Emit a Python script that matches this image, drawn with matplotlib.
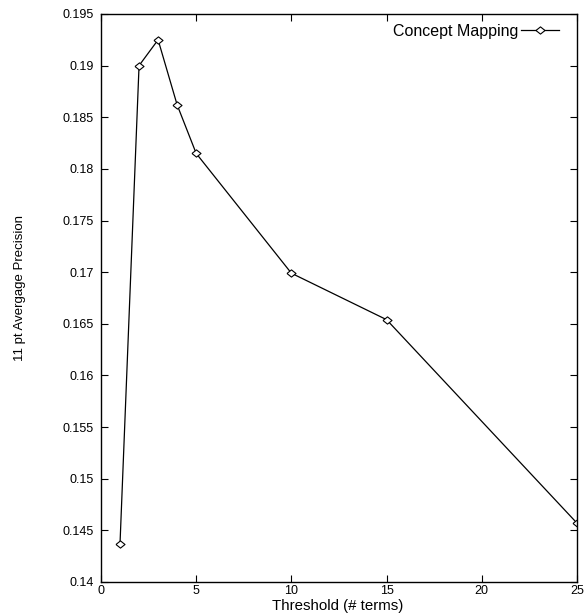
import matplotlib
matplotlib.use("Agg")
from matplotlib import pyplot as plt

# values
thresholds = [1, 2, 3, 4, 5, 10, 15, 25]
precision = [0.1437, 0.1900, 0.1925, 0.1862, 0.1815, 0.1699, 0.1654, 0.1457]
x_ticks = [0, 5, 10, 15, 20, 25]
y_ticks = [0.14, 0.145, 0.15, 0.155, 0.16, 0.165, 0.17, 0.175, 0.18, 0.185, 0.19, 0.195]
y_tick_labels = ['0.14', '0.145', '0.15', '0.155', '0.16', '0.165', '0.17',
                 '0.175', '0.18', '0.185', '0.19', '0.195']

plt.rcParams['font.family'] = ['Liberation Sans', 'DejaVu Sans']

# gnuplot style diamond, a bit wider than tall
diamond = [(-1, 0), (0, 0.8), (1, 0), (0, -0.8), (-1, 0)]

fig = plt.figure(figsize=(5.85, 6.13), dpi=100)
ax = fig.add_axes([0.1726, 0.0506, 0.8137, 0.9266])

ax.plot(thresholds, precision, color='black', linewidth=0.9,
        marker=diamond, markersize=6.5, markerfacecolor='white',
        markeredgecolor='black', markeredgewidth=0.8,
        label='Concept Mapping')

ax.set_xlim(0, 25)
ax.set_ylim(0.14, 0.195)
ax.set_xticks(x_ticks)
ax.set_yticks(y_ticks)
ax.set_yticklabels(y_tick_labels)

ax.tick_params(direction='in', length=5, width=0.8, top=True, right=True,
               labelsize=9)
ax.tick_params(axis='y', pad=5)
ax.tick_params(axis='x', pad=2)
for s in ax.spines.values():
    s.set_linewidth(1.0)

fig.text(0.578, 0.0055, 'Threshold (# terms)', fontsize=10.8,
         ha='center', va='baseline')
fig.text(20 / 585, 0.530, '11 pt Avergage Precision', fontsize=9.5,
         rotation=90, ha='center', va='center')

ax.legend(loc='upper right', bbox_to_anchor=(0.962, 0.983), frameon=False,
          markerfirst=False, fontsize=11.5, handlelength=2.4,
          handletextpad=0.15, borderaxespad=0, borderpad=0)

fig.savefig('out.png', dpi=100)
